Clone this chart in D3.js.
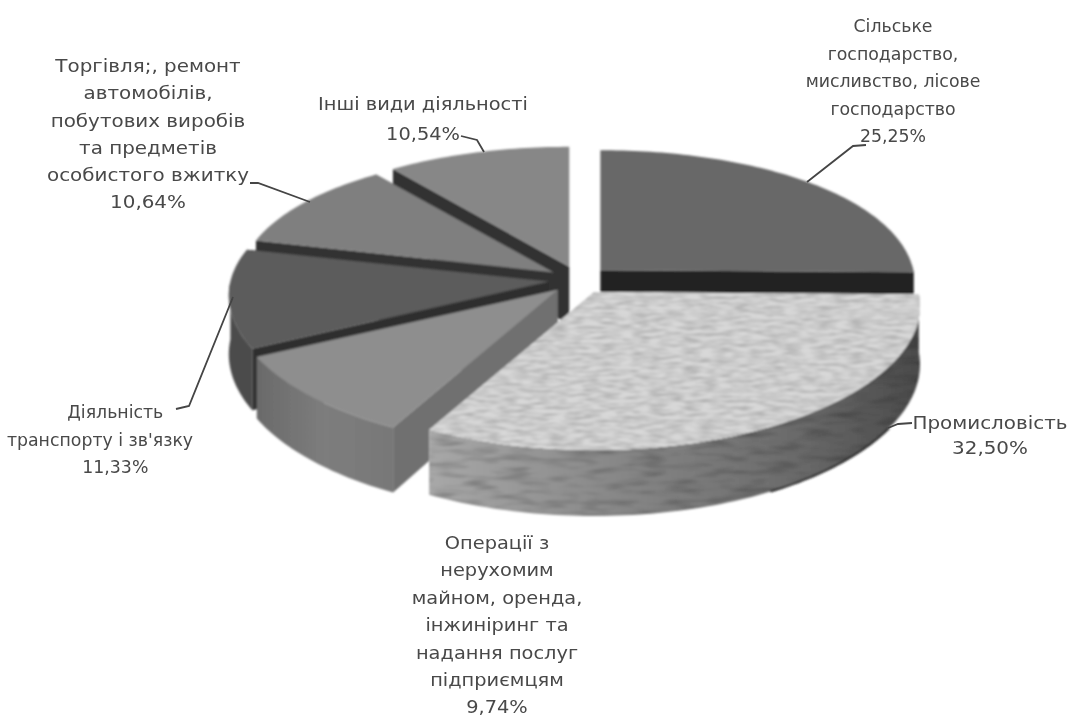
<!DOCTYPE html>
<html>
<head>
<meta charset="utf-8">
<script src="https://cdnjs.cloudflare.com/ajax/libs/d3/7.8.5/d3.min.js"></script>
<style>
html,body{margin:0;padding:0;background:#fff;overflow:hidden;}
text{font-family:"DejaVu Sans",sans-serif;font-size:17px;fill:#484848;text-anchor:middle;}
</style>
</head>
<body>
<svg id="chart" width="1068" height="719"></svg>
<script>
// chart values
const shares = [25.25, 32.50, 9.74, 11.33, 10.64, 10.54];
const shareLabels = ["25,25%", "32,50%", "9,74%", "11,33%", "10,64%", "10,54%"];
const categories = [
	["Сільське", "господарство,", "мисливство, лісове", "господарство"],
	["Промисловість"],
	["Операції з", "нерухомим", "майном, оренда,", "інжиніринг та", "надання послуг", "підприємцям"],
	["Діяльність", "транспорту і зв'язку"],
	["Торгівля;, ремонт", "автомобілів,", "побутових виробів", "та предметів", "особистого вжитку"],
	["Інші види діяльності"]
];

// look of each slice, same order as shares
const topFill  = ["#676767", "#d8d8d8", "#8e8e8e", "#5b5b5b", "#7f7f7f", "#878787"];
const wallFill = ["#555555", "url(#wallLight)", "url(#wallMid)", "#4c4c4c", "#6a6a6a", "#707070"];
const cutFill  = ["#242424", "#555555", "#707070", "#2e2e2e", "#333333", "#333333"];
const drawOrder = [5, 0, 4, 3, 2, 1]; // back to front

// where each label block goes: centre x, first line y, line step, x stretch
const labelPos = [
	[893, 32, 27.6, 1.02],
	[990, 429, 25, 1.17],
	[497, 549, 27.4, 1.14],
	[100, 418, 27.6, 1.02],
	[148, 72, 27.3, 1.17],
	[423, 110, 30, 1.14]
];
const firstLineShift = [0, 0, 0, 15, 0, 0];

const leaders = [
	[[807, 182], [853, 146], [866, 145]],
	[[912, 423], [898, 424], [888, 428]],
	[],
	[[233, 297], [189, 406], [176, 409]],
	[[310, 202], [258, 183], [250, 183]],
	[[484, 152], [477, 140], [461, 136]]
];

const centre = [579, 280];
const R = 318, Ry = 139;
const perspX = 0.1, perspY = 0.137; // the near side of the disc is drawn bigger
const apexGrow = 0.0016;            // a slice pushed toward the viewer grows a bit
const depth = 58;
const explodeX = 30, explodeY = 14;

const svg = d3.select("#chart");
const defs = svg.append("defs");

function gradient(id, stops){
	const g = defs.append("linearGradient").attr("id", id)
		.attr("gradientUnits", "objectBoundingBox").attr("x1", 0).attr("x2", 1).attr("y1", 0).attr("y2", 0);
	stops.forEach(s => g.append("stop").attr("offset", s[0]).attr("stop-color", s[1]));
}
gradient("wallLight", [[0, "#a8a8a8"], [0.35, "#8a8a8a"], [0.75, "#6a6a6a"], [1, "#4a4a4a"]]);
gradient("wallMid", [[0, "#6a6a6a"], [0.5, "#7d7d7d"], [1, "#787878"]]);

function grain(id, freq, seed, gain, lift){
	const f = defs.append("filter").attr("id", id)
		.attr("x", 0).attr("y", 0).attr("width", 1).attr("height", 1)
		.attr("color-interpolation-filters", "sRGB");
	f.append("feTurbulence").attr("type", "fractalNoise")
		.attr("baseFrequency", freq).attr("numOctaves", 2).attr("seed", seed).attr("result", "n");
	f.append("feColorMatrix").attr("in", "n").attr("type", "matrix")
		.attr("values", `${gain} 0 0 0 ${lift} ${gain} 0 0 0 ${lift} ${gain} 0 0 0 ${lift} 0 0 0 0 1`)
		.attr("result", "g");
	f.append("feComposite").attr("in", "g").attr("in2", "SourceAlpha").attr("operator", "in").attr("result", "m");
	f.append("feBlend").attr("in", "SourceGraphic").attr("in2", "m").attr("mode", "multiply");
}
grain("grainTop", "0.06 0.3", 4, 0.36, 0.76);
grain("grainWall", "0.03 0.16", 9, 0.5, 0.72);

defs.append("filter").attr("id", "soft").append("feGaussianBlur").attr("stdDeviation", 0.8);
defs.append("filter").attr("id", "softText").append("feGaussianBlur").attr("stdDeviation", 0.45);

const arcs = d3.pie().sort(null).value(d => d)(shares);
const line = d3.line();

function depthAt(a){ return depth * (1 - perspY * Math.cos(a)); }

function project(a, apex){
	const grow = 1 + apexGrow * (apex[1] - centre[1]);
	return [
		apex[0] + R * grow * Math.sin(a) * (1 - perspX * Math.cos(a)),
		apex[1] - Ry * Math.cos(a) * (1 - perspY * Math.cos(a))
	];
}

function apexOf(d){
	const m = (d.startAngle + d.endAngle) / 2;
	return [centre[0] + explodeX * Math.sin(m), centre[1] - explodeY * Math.cos(m)];
}

function rimAngles(a0, a1){
	const n = Math.max(2, Math.ceil((a1 - a0) / 0.02));
	return d3.range(n + 1).map(i => a0 + (a1 - a0) * i / n);
}

const pie = svg.append("g").attr("filter", "url(#soft)");

drawOrder.forEach(i => {
	const d = arcs[i], apex = apexOf(d);
	const g = pie.append("g").attr("class", "slice");

	// cut faces
	[d.startAngle, d.endAngle].forEach(a => {
		const p = project(a, apex);
		g.append("path")
			.attr("d", line([apex, p, [p[0], p[1] + depthAt(a)], [apex[0], apex[1] + depth]]) + "Z")
			.attr("fill", cutFill[i]);
	});

	// outer wall, only the near half of the rim faces the viewer
	const a0 = Math.max(d.startAngle, Math.PI / 2), a1 = Math.min(d.endAngle, Math.PI * 1.5);
	if(a1 > a0){
		const angles = rimAngles(a0, a1);
		const rim = angles.map(a => project(a, apex));
		const low = angles.map(a => { const p = project(a, apex); return [p[0], p[1] + depthAt(a)]; });
		const wall = g.append("path")
			.attr("d", line(rim.concat(low.reverse())) + "Z")
			.attr("fill", wallFill[i]);
		if(i === 1) wall.attr("filter", "url(#grainWall)");
	}

	// top face
	const top = g.append("path")
		.attr("d", line([apex].concat(rimAngles(d.startAngle, d.endAngle).map(a => project(a, apex)))) + "Z")
		.attr("fill", topFill[i]);
	if(i === 1) top.attr("filter", "url(#grainTop)");
});

// dark edge under the big slice, it runs on from the leader
const bigApex = apexOf(arcs[1]);
const edge = rimAngles(120 * Math.PI / 180, 150 * Math.PI / 180).map(a => {
	const p = project(a, bigApex);
	return [p[0], p[1] + depthAt(a)];
});
pie.append("path").attr("d", line(edge)).attr("fill", "none").attr("stroke", "#222").attr("stroke-width", 2);

// leader lines
const notes = svg.append("g").attr("filter", "url(#softText)");
leaders.filter(l => l.length).forEach(l => {
	notes.append("path").attr("d", line(l))
		.attr("fill", "none").attr("stroke", "#444").attr("stroke-width", 1.8);
});

// labels
categories.forEach((lines, i) => {
	const pos = labelPos[i];
	const block = notes.append("g").attr("transform", `translate(${pos[0]},0) scale(${pos[3]},1)`);
	const all = lines.concat([shareLabels[i]]);
	all.forEach((t, k) => {
		const dx = (k === 0 || k === all.length - 1) ? firstLineShift[i] : 0;
		block.append("text").attr("x", dx).attr("y", pos[1] + k * pos[2]).text(t);
	});
});
</script>
</body>
</html>
